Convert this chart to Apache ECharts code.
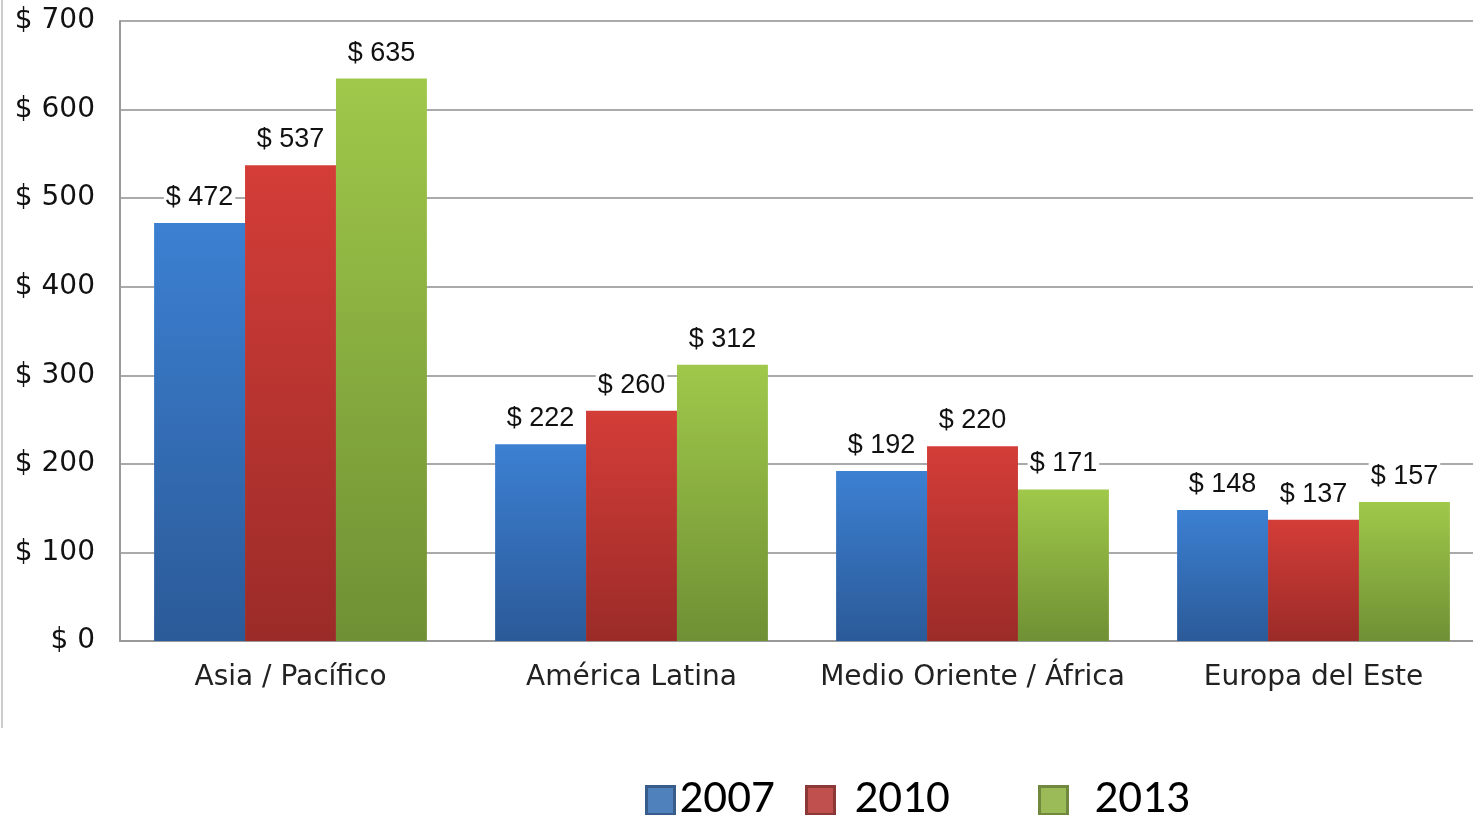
<!DOCTYPE html>
<html>
<head>
<meta charset="utf-8">
<script src="https://cdn.jsdelivr.net/npm/echarts@6/dist/echarts.min.js"></script>
<style>
html, body { margin: 0; padding: 0; background: #fff; overflow: hidden; }
/* el gráfico sigue un poco más allá del borde derecho */
#chart { width: 1484px; height: 815px; }
</style>
</head>
<body>
<div id="chart"></div>
<script>
var categories = ['Asia / Pacífico', 'América Latina', 'Medio Oriente / África', 'Europa del Este'];
var years = ['2007', '2010', '2013'];
var values2007 = [472, 222, 192, 148];
var values2010 = [537, 260, 220, 137];
var values2013 = [635, 312, 171, 157];
var yTicks = [0, 100, 200, 300, 400, 500, 600, 700];

var chart = echarts.init(document.getElementById('chart'));

function grad(top, bottom) {
	return new echarts.graphic.LinearGradient(0, 0, 0, 1, [
		{ offset: 0, color: top },
		{ offset: 1, color: bottom }
	]);
}

// estilo de cada serie
var styles = [
	{ fill: grad('#3c80d2', '#2b5a98'), icon: '#4f81bd', border: '#385d8a' },
	{ fill: grad('#d43d38', '#9b2b28'), icon: '#c0504d', border: '#8c3836' },
	{ fill: grad('#a0c84a', '#6f9034'), icon: '#9bbb59', border: '#71893f' }
];
var seriesData = [values2007, values2010, values2013];

var series = years.map(function (y, i) {
	return {
		name: y,
		type: 'bar',
		data: seriesData[i],
		barGap: '0%',
		barCategoryGap: '20%',
		itemStyle: { color: styles[i].fill },
		label: {
			show: true,
			position: 'top',
			distance: 12,
			formatter: '$ {c}',
			fontFamily: 'Liberation Sans',
			fontSize: 27,
			color: '#111',
			backgroundColor: '#fff',
			padding: [0, 2]
		}
	};
});

// tres leyendas separadas, espaciado como el original
var legendPos = [640, 800, 1033];
var legendPad = [0, 15, 22];
var legends = years.map(function (y, i) {
	return {
		data: [{
			name: y,
			itemStyle: { color: styles[i].icon, borderColor: styles[i].border, borderWidth: 3 }
		}],
		left: legendPos[i],
		top: 772,
		itemWidth: 28,
		itemHeight: 28,
		icon: 'rect',
		itemGap: 0,
		selectedMode: false,
		textStyle: {
			fontFamily: 'Carlito, Open Sans, Liberation Sans',
			fontSize: 47,
			color: '#000',
			padding: [0, 0, 0, legendPad[i]]
		}
	};
});

chart.setOption({
	animation: false,
	backgroundColor: '#fff',
	grid: { left: 120, right: 0, top: 21, bottom: 174, containLabel: false },
	legend: legends,
	xAxis: {
		type: 'category',
		data: categories,
		axisLine: { show: true, lineStyle: { color: '#999', width: 2 } },
		axisTick: { show: false },
		axisLabel: {
			interval: 0,
			fontFamily: 'DejaVu Sans',
			fontSize: 28,
			color: '#222',
			margin: 23
		}
	},
	yAxis: {
		type: 'value',
		min: 0,
		max: 700,
		interval: 100,
		axisLine: { show: true, lineStyle: { color: '#999', width: 2 } },
		axisTick: { show: false },
		splitLine: { show: true, lineStyle: { color: '#aaa', width: 2 } },
		axisLabel: {
			fontFamily: 'DejaVu Sans',
			fontSize: 28,
			color: '#111',
			margin: 25,
			formatter: function (v) { return yTicks.indexOf(v) >= 0 ? '$ ' + v : ''; }
		}
	},
	graphic: [{
		type: 'line',
		shape: { x1: 2, y1: 0, x2: 2, y2: 728 },
		style: { stroke: '#ccc', lineWidth: 2 }
	}],
	series: series
});
</script>
</body>
</html>
